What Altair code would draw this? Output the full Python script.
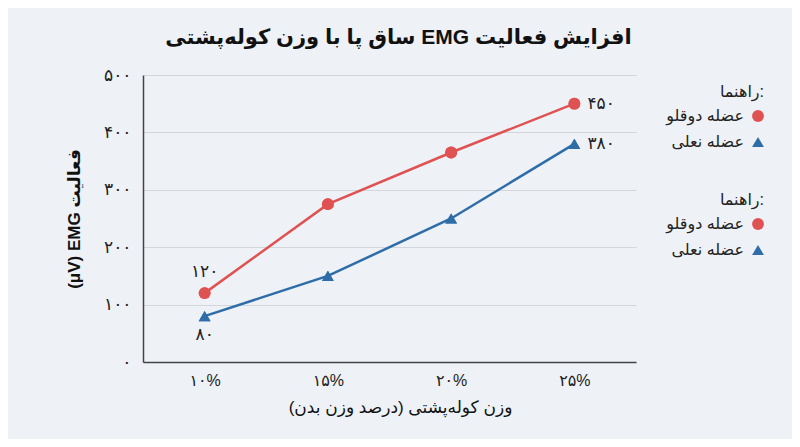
import altair as alt
import pandas as pd

# data
loads = ["۱۰%", "۱۵%", "۲۰%", "۲۵%"]
gastro = [120, 275, 365, 450]
soleus = [80, 150, 250, 380]
series_names = ["عضله دوقلو", "عضله نعلی"]
series_colors = ["#e05252", "#2e6da8"]
series_shapes = ["circle", "triangle-up"]

# annotated values
label_series = ["عضله دوقلو", "عضله دوقلو", "عضله نعلی", "عضله نعلی"]
label_loads = ["۱۰%", "۲۵%", "۱۰%", "۲۵%"]
label_values = [120, 450, 80, 380]
label_where = ["above", "right", "below", "right"]

y_ticks = [0, 100, 200, 300, 400, 500]

FA = str.maketrans("0123456789", "۰۱۲۳۴۵۶۷۸۹")


def rtl(s):
    return "\u202b" + s + "\u202c"


def ltr(s):
    return "\u202a" + s + "\u202c"


df = pd.DataFrame({
    "load": loads * 2,
    "value": gastro + soleus,
    "series": [series_names[0]] * len(loads) + [series_names[1]] * len(loads),
})
labels = pd.DataFrame({
    "series": label_series,
    "load": label_loads,
    "value": label_values,
    "where": label_where,
    "text": [str(v).translate(FA) for v in label_values],
})

# persian digits on the y axis
label_expr = "datum.label"
for d in "0123456789":
    label_expr = f"replace({label_expr}, regexp('{d}', 'g'), '{d.translate(FA)}')"

FONT = "Liberation Sans, DejaVu Sans"

x_enc = alt.X(
    "load:N",
    sort=loads,
    scale=alt.Scale(type="point", padding=0.5),
    axis=alt.Axis(
        title=rtl("وزن کوله‌پشتی (درصد وزن بدن)"),
        labelAngle=0,
        ticks=False,
        grid=False,
        labelPadding=10,
        labelFontSize=16,
        titleFontSize=17,
        titleFontWeight="normal",
        titlePadding=11,
        titleX=257,
    ),
)
y_enc = alt.Y(
    "value:Q",
    scale=alt.Scale(domain=[0, 500]),
    axis=alt.Axis(
        values=y_ticks,
        title=rtl("فعالیت EMG\u200f (μV)"),
        ticks=False,
        labelPadding=12,
        labelFontSize=17,
        labelExpr=label_expr,
        titleFontSize=17,
        titleFontWeight="bold",
        titlePadding=20,
    ),
)

color_scale = alt.Scale(domain=series_names, range=series_colors)
shape_scale = alt.Scale(domain=series_names, range=series_shapes)


def make_legend(ypos):
    return alt.Legend(
        title=ltr("راهنما:"),
        orient="none",
        legendX=577,
        legendY=ypos,
        titleAnchor="end",
        titleAlign="right",
        labelAlign="right",
        labelOffset={"expr": "-22"},
        titleFontSize=16,
        titleFontWeight="normal",
        labelFontSize=16,
        symbolSize=140,
        rowPadding=10,
        titlePadding=8,
    )


base = alt.Chart(df)

lines = base.mark_line(strokeWidth=2.5).encode(
    x=x_enc, y=y_enc,
    color=alt.Color("series:N", scale=color_scale, legend=None),
)


def points(ypos):
    return base.mark_point(filled=True, opacity=1, size=140).encode(
        x=x_enc, y=y_enc,
        color=alt.Color("series:N", scale=color_scale, legend=make_legend(ypos)),
        shape=alt.Shape("series:N", scale=shape_scale, legend=make_legend(ypos)),
    )


lab = alt.Chart(labels)
txt_above = lab.transform_filter("datum.where == 'above'").mark_text(
    fontSize=17, dy=-21, color="#222"
).encode(x=x_enc, y=y_enc, text="text:N")
txt_below = lab.transform_filter("datum.where == 'below'").mark_text(
    fontSize=17, dy=19, color="#222"
).encode(x=x_enc, y=y_enc, text="text:N")
txt_right = lab.transform_filter("datum.where == 'right'").mark_text(
    fontSize=17, dx=13, align="left", color="#222"
).encode(x=x_enc, y=y_enc, text="text:N")

chart = alt.layer(
    lines, points(9), points(117), txt_above, txt_below, txt_right
).resolve_scale(
    color="independent", shape="independent"
).properties(
    width=493,
    height=287,
    autosize=alt.AutoSizeParams(type="none"),
    padding={"left": 135, "top": 67, "right": 156, "bottom": 77},
    background="#eef1f5",
    title=alt.Title(
        rtl("افزایش فعالیت EMG ساق پا با وزن کوله‌پشتی"),
        fontSize=21,
        fontWeight="bold",
        offset=18,
        dx=9,
        color="#111",
    ),
).configure(
    font=FONT,
).configure_view(
    stroke=None,
).configure_axis(
    domainColor="#444",
    domainWidth=1.5,
    gridColor="#d3d6db",
    labelColor="#222",
    titleColor="#111",
).configure_legend(
    labelColor="#222",
    titleColor="#222",
)

chart.save("out.html", embed_options={"renderer": "svg", "actions": False})
